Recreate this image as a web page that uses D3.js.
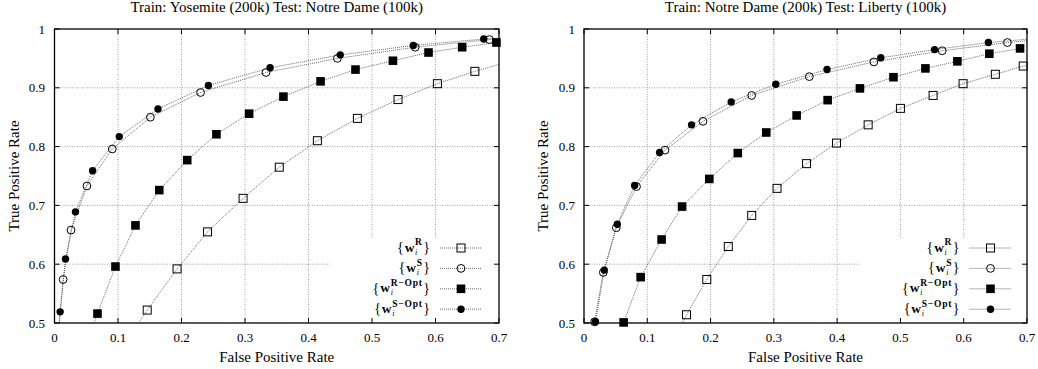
<!DOCTYPE html>
<html>
<head>
<meta charset="utf-8">
<script src="https://cdn.jsdelivr.net/npm/d3@7"></script>
<style>
  html, body { margin: 0; padding: 0; background: #fff; }
  svg { display: block; }
  text { font-family: "Liberation Serif", "Times New Roman", serif; fill: #000; }
</style>
</head>
<body>
<svg id="chart" width="1038" height="369"></svg>
<script>
// ---------- data ----------
const xTicks = [0, 0.1, 0.2, 0.3, 0.4, 0.5, 0.6, 0.7];
const yTicks = [0.5, 0.6, 0.7, 0.8, 0.9, 1];
const xTickLabels = ["0", "0.1", "0.2", "0.3", "0.4", "0.5", "0.6", "0.7"];
const yTickLabels = ["0.5", "0.6", "0.7", "0.8", "0.9", "1"];

const titles = ["Train: Yosemite (200k) Test: Notre Dame (100k)", "Train: Notre Dame (200k) Test: Liberty (100k)"];
const xLabel = "False Positive Rate";
const yLabel = "True Positive Rate";
const seriesNames = ["R", "S", "R\u2212Opt", "S\u2212Opt"];

// Left panel: Train Yosemite, Test Notre Dame
const leftR_fpr = [0.105, 0.146, 0.193, 0.241, 0.297, 0.354, 0.414, 0.477, 0.541, 0.603, 0.662, 0.72];
const leftR_tpr = [0.455, 0.522, 0.592, 0.655, 0.712, 0.765, 0.810, 0.848, 0.880, 0.907, 0.928, 0.946];
const leftS_fpr = [0.005, 0.0136, 0.026, 0.051, 0.091, 0.151, 0.230, 0.333, 0.4455, 0.568, 0.685, 0.75];
const leftS_tpr = [0.470, 0.574, 0.658, 0.733, 0.796, 0.850, 0.892, 0.926, 0.950, 0.969, 0.982, 0.987];
const leftROpt_fpr = [0.05, 0.0677, 0.096, 0.1275, 0.165, 0.209, 0.255, 0.3065, 0.3605, 0.419, 0.474, 0.533, 0.589, 0.642, 0.696];
const leftROpt_tpr = [0.465, 0.516, 0.596, 0.666, 0.726, 0.777, 0.821, 0.856, 0.885, 0.911, 0.931, 0.946, 0.960, 0.969, 0.977];
const leftSOpt_fpr = [0.006, 0.0089, 0.0173, 0.033, 0.060, 0.102, 0.163, 0.2424, 0.3395, 0.450, 0.565, 0.676, 0.75];
const leftSOpt_tpr = [0.470, 0.519, 0.609, 0.689, 0.759, 0.817, 0.864, 0.904, 0.934, 0.956, 0.972, 0.983, 0.988];

// Right panel: Train Notre Dame, Test Liberty
const rightR_fpr = [0.14, 0.162, 0.194, 0.228, 0.265, 0.305, 0.3516, 0.399, 0.449, 0.500, 0.5516, 0.599, 0.650, 0.694, 0.72];
const rightR_tpr = [0.465, 0.514, 0.574, 0.630, 0.683, 0.729, 0.771, 0.806, 0.837, 0.865, 0.887, 0.907, 0.923, 0.937, 0.945];
const rightS_fpr = [0.0168, 0.0305, 0.051, 0.083, 0.128, 0.188, 0.265, 0.356, 0.458, 0.566, 0.669, 0.75];
const rightS_tpr = [0.502, 0.586, 0.662, 0.732, 0.794, 0.843, 0.887, 0.919, 0.944, 0.963, 0.977, 0.985];
const rightROpt_fpr = [0.0626, 0.0895, 0.1226, 0.155, 0.198, 0.243, 0.288, 0.336, 0.385, 0.436, 0.489, 0.5395, 0.590, 0.6405, 0.689];
const rightROpt_tpr = [0.501, 0.578, 0.642, 0.698, 0.745, 0.789, 0.824, 0.853, 0.879, 0.899, 0.918, 0.933, 0.945, 0.958, 0.967];
const rightSOpt_fpr = [0.018, 0.032, 0.0526, 0.080, 0.1195, 0.170, 0.2326, 0.303, 0.384, 0.469, 0.554, 0.639, 0.75];
const rightSOpt_tpr = [0.502, 0.590, 0.668, 0.734, 0.790, 0.837, 0.876, 0.906, 0.931, 0.951, 0.965, 0.977, 0.987];

// ---------- layout ----------
const panels = [
  { left: 54.5, right: 499, labelRight: 45, yLabelX: 18.5, title: titles[0],
    series: [[leftR_fpr, leftR_tpr], [leftS_fpr, leftS_tpr], [leftROpt_fpr, leftROpt_tpr], [leftSOpt_fpr, leftSOpt_tpr]] },
  { left: 584, right: 1027, labelRight: 575, yLabelX: 548, title: titles[1],
    series: [[rightR_fpr, rightR_tpr], [rightS_fpr, rightS_tpr], [rightROpt_fpr, rightROpt_tpr], [rightSOpt_fpr, rightSOpt_tpr]] }
];
const plotTop = 29, plotBottom = 323;
const markerTypes = ["openSquare", "openCircle", "filledSquare", "filledCircle"];

const svg = d3.select("#chart");

function drawMarker(g, type, x, y) {
  if (type === "openSquare") {
    g.append("rect").attr("x", x - 4).attr("y", y - 4).attr("width", 8).attr("height", 8)
      .attr("fill", "none").attr("stroke", "#000").attr("stroke-width", 1);
  } else if (type === "filledSquare") {
    g.append("rect").attr("x", x - 4.3).attr("y", y - 4.3).attr("width", 8.6).attr("height", 8.6)
      .attr("fill", "#000");
  } else if (type === "openCircle") {
    g.append("circle").attr("cx", x).attr("cy", y).attr("r", 3.9)
      .attr("fill", "none").attr("stroke", "#000").attr("stroke-width", 1);
  } else {
    g.append("circle").attr("cx", x).attr("cy", y).attr("r", 3.7).attr("fill", "#000");
  }
}

panels.forEach((p, pi) => {
  const x = d3.scaleLinear().domain([0, 0.7]).range([p.left, p.right]);
  const y = d3.scaleLinear().domain([0.5, 1]).range([plotBottom, plotTop]);
  const g = svg.append("g");

  const clipId = "clip" + pi;
  svg.append("clipPath").attr("id", clipId).append("rect")
    .attr("x", p.left).attr("y", plotTop).attr("width", p.right - p.left).attr("height", plotBottom - plotTop);

  // grid
  const grid = g.append("g").attr("stroke", "#888").attr("stroke-width", 0.8).attr("stroke-dasharray", "1,1.5");
  xTicks.slice(1, -1).forEach(t => {
    grid.append("line").attr("x1", x(t)).attr("x2", x(t)).attr("y1", plotTop).attr("y2", plotBottom);
  });
  yTicks.slice(1, -1).forEach(t => {
    grid.append("line").attr("x1", p.left).attr("x2", p.right).attr("y1", y(t)).attr("y2", y(t));
  });

  // legend box blanking
  const keyTextRight = p.left + 375.5;
  g.append("rect").attr("x", keyTextRight - 100).attr("y", 238)
    .attr("width", p.right - (keyTextRight - 100)).attr("height", plotBottom - 238).attr("fill", "#fff");

  // series lines (clipped to the plot area)
  const plot = g.append("g").attr("clip-path", `url(#${clipId})`);
  const marks = g.append("g");
  p.series.forEach((s, si) => {
    const pts = s[0].map((fx, i) => [fx, s[1][i]]);
    plot.append("path")
      .attr("d", d3.line().x(d => x(d[0])).y(d => y(d[1]))(pts))
      .attr("fill", "none").attr("stroke", "#444").attr("stroke-width", 0.8)
      .attr("stroke-dasharray", "1,1");
  });

  // frame
  g.append("rect").attr("x", p.left).attr("y", plotTop).attr("width", p.right - p.left)
    .attr("height", plotBottom - plotTop).attr("fill", "none").attr("stroke", "#000").attr("stroke-width", 1.3);

  // markers: only points inside the axis ranges
  p.series.forEach((s, si) => {
    s[0].forEach((fx, i) => {
      const ty = s[1][i];
      if (fx >= 0 && fx <= 0.7 && ty >= 0.5 && ty <= 1) drawMarker(g, markerTypes[si], x(fx), y(ty));
    });
  });

  // ticks (inward, mirrored)
  const tk = g.append("g").attr("stroke", "#000").attr("stroke-width", 1);
  xTicks.forEach(t => {
    tk.append("line").attr("x1", x(t)).attr("x2", x(t)).attr("y1", plotBottom).attr("y2", plotBottom - 5);
    tk.append("line").attr("x1", x(t)).attr("x2", x(t)).attr("y1", plotTop).attr("y2", plotTop + 5);
  });
  yTicks.forEach(t => {
    tk.append("line").attr("x1", p.left).attr("x2", p.left + 5).attr("y1", y(t)).attr("y2", y(t));
    tk.append("line").attr("x1", p.right).attr("x2", p.right - 5).attr("y1", y(t)).attr("y2", y(t));
  });

  // tick labels
  xTicks.forEach((t, i) => {
    g.append("text").attr("x", x(t)).attr("y", 341.5).attr("text-anchor", "middle")
      .attr("font-size", 13).text(xTickLabels[i]);
  });
  yTicks.forEach((t, i) => {
    g.append("text").attr("x", p.labelRight).attr("y", y(t) + 4.5).attr("text-anchor", "end")
      .attr("font-size", 13).text(yTickLabels[i]);
  });

  // axis labels & title
  g.append("text").attr("x", (p.left + p.right) / 2).attr("y", 361.5).attr("text-anchor", "middle")
    .attr("font-size", 15).text(xLabel);
  g.append("text").attr("transform", `translate(${p.yLabelX},${(plotTop + plotBottom) / 2}) rotate(-90)`)
    .attr("text-anchor", "middle").attr("font-size", 15).text(yLabel);
  g.append("text").attr("x", (p.left + p.right) / 2).attr("y", 12).attr("text-anchor", "middle")
    .attr("font-size", 15).text(p.title);

  // legend
  const rowsY = [248, 268.4, 288.8, 309.2];
  seriesNames.forEach((name, si) => {
    const ry = rowsY[si];
    const t = g.append("text").attr("x", 0).attr("y", ry + 4);
    const open = t.append("tspan").attr("font-size", 14).text("{");
    const w = t.append("tspan").attr("dx", 1).attr("dy", -0.5).attr("font-size", 13.5)
      .attr("font-weight", "bold").text("w");
    const sup = t.append("tspan").attr("dx", 0.6).attr("dy", -6.2).attr("font-size", 9.5)
      .attr("font-weight", "bold").attr("letter-spacing", 0.8).text(name);
    const wEnd = open.node().getComputedTextLength() + 1 + w.node().getComputedTextLength() + 0.6;
    const sub = t.append("tspan").attr("x", wEnd).attr("dy", 9.3).attr("font-size", 8)
      .attr("font-style", "italic").text("i");
    const scriptW = Math.max(sup.node().getComputedTextLength(), sub.node().getComputedTextLength());
    const close = t.append("tspan").attr("x", wEnd + scriptW + 0.5).attr("dy", -2.6)
      .attr("font-size", 14).text("}");
    const total = wEnd + scriptW + 0.5 + close.node().getComputedTextLength();
    t.attr("transform", `translate(${keyTextRight - total},0)`);

    g.append("line").attr("x1", keyTextRight + 10).attr("x2", keyTextRight + 51)
      .attr("y1", ry).attr("y2", ry).attr("stroke", "#444").attr("stroke-width", 0.8)
      .attr("stroke-dasharray", "1,1");
    drawMarker(g, markerTypes[si], keyTextRight + 31, ry);
  });
});
</script>
</body>
</html>
